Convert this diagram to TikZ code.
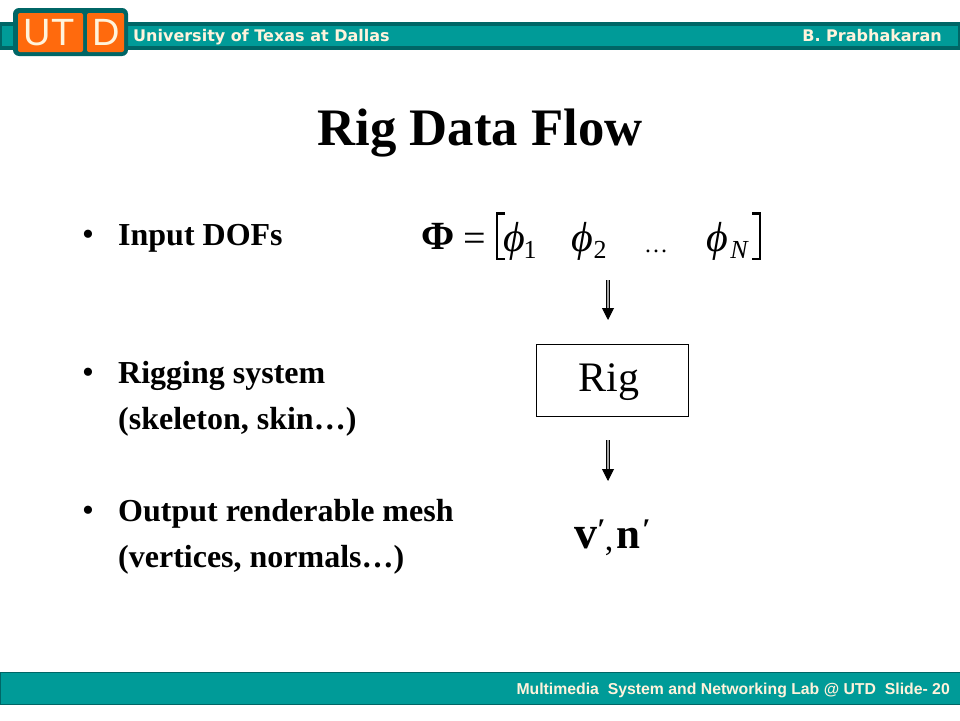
\documentclass[tikz,border=0pt]{standalone}
\usepackage{xcolor}
\usepackage{fontspec}
\setmainfont{Liberation Serif}
\newfontfamily\barfont{DejaVu Sans}
\newfontfamily\labfont{Liberation Sans}
\usepackage{tikz}
\usetikzlibrary{positioning,arrows.meta}
\definecolor{barteal}{HTML}{009B98}
\definecolor{darkteal}{HTML}{006666}
\definecolor{logoorange}{HTML}{FF6A0D}
\definecolor{logotext}{HTML}{FFF3DC}
\tikzset{
  headtext/.style={text=logotext, font=\barfont\bfseries\fontsize{16}{19}\selectfont, anchor=base west, inner sep=0pt},
  labtext/.style={text=logotext, font=\labfont\bfseries\fontsize{15.8}{19}\selectfont, anchor=base east, inner sep=0pt},
  logoletter/.style={text=logotext, font=\labfont\fontsize{38}{42}\selectfont, anchor=base, inner sep=0pt},
  bodytext/.style={font=\bfseries\fontsize{32}{38}\selectfont, anchor=base west, inner sep=0pt},
  bullet/.style={font=\fontsize{34}{38}\selectfont, anchor=base west, inner sep=0pt},
  mathtext/.style={font=\itshape\fontsize{42}{46}\selectfont, anchor=base, inner sep=0pt},
  subtext/.style={font=\fontsize{26}{30}\selectfont, anchor=base, inner sep=0pt},
  flowarrow/.style={draw=black, line width=0.9pt, double=gray!70, double distance=2.4pt, -{Triangle[width=12pt,length=12pt]}},
  bracket/.style={draw=black, line width=2.6pt},
}
\begin{document}
\begin{tikzpicture}[x=1pt,y=-1pt]
  \useasboundingbox (0,0) rectangle (960,720);
  \fill[white] (0,0) rectangle (960,720);
  % top bar
  \fill[darkteal] (0,22) rectangle (960,50);
  \fill[barteal] (2,26) rectangle (958,46);
  \fill[darkteal, rounded corners=6pt] (13,8) rectangle (128,56);
  \fill[logoorange, rounded corners=2pt] (18,13) rectangle (83,52);
  \fill[logoorange, rounded corners=2pt] (87,13) rectangle (124,52);
  \node (letterU) [logoletter] at (37,45) {U};
  \node (letterT) [logoletter] at (63,45) {T};
  \node (letterD) [logoletter] at (106,45) {D};
  \node (school) [headtext] at (133,41) {University of Texas at Dallas};
  \node (teacher) [headtext, anchor=base east] at (942,41) {B. Prabhakaran};
  % bottom bar
  \fill[barteal, draw=darkteal] (0,672) rectangle (960,704);
  \node (lab) [labtext] at (950,694) {Multimedia\ \ System and Networking Lab @ UTD\ \ Slide- 20};
  % title and list
  \node (title) [font=\bfseries\fontsize{52.7}{56}\selectfont, anchor=base, inner sep=0pt] at (480,145) {Rig Data Flow};
  \node (dot1) [bullet] at (82,245) {•};
  \node (input) [bodytext] at (118,245) {Input DOFs};
  \node (dot2) [bullet] at (82,383) {•};
  \node (rigging) [bodytext] at (118,383) {Rigging system};
  \node (rigging2) [bodytext] at (118,429) {(skeleton, skin…)};
  \node (dot3) [bullet] at (82,521) {•};
  \node (output) [bodytext] at (118,521) {Output renderable mesh};
  \node (output2) [bodytext] at (118,567) {(vertices, normals…)};
  % formula
  \node (phi) [font=\bfseries\fontsize{40}{44}\selectfont, anchor=base, inner sep=0pt] at (438,249) {Φ};
  \node (eq) [font=\fontsize{40}{44}\selectfont, anchor=base, inner sep=0pt] at (475,251) {=};
  \draw[bracket] (505,213.5) -- (497,213.5) -- (497,259) -- (505,259);
  \node (phi1) [mathtext] at (514,251) {ϕ};
  \node (sub1) [subtext] at (530,258) {1};
  \node (phi2) [mathtext] at (582,251) {ϕ};
  \node (sub2) [subtext] at (600,258) {2};
  \node (dots) [font=\fontsize{24}{28}\selectfont, anchor=base, inner sep=0pt] at (656,252) {…};
  \node (phiN) [mathtext] at (717,251) {ϕ};
  \node (subN) [subtext, font=\itshape\fontsize{26}{30}\selectfont] at (739,258) {N};
  \draw[bracket] (752,213.5) -- (760,213.5) -- (760,259) -- (752,259);
  % rig box and result
  \node (rig) [rectangle, draw, line width=0.8pt, minimum width=152pt, minimum height=72pt, inner sep=0pt] at (612.5,380.5) {};
  \node (rigtext) [font=\fontsize{42}{46}\selectfont, anchor=base, inner sep=0pt] at (609,391) {Rig};
  \node (vert) [font=\bfseries\fontsize{46}{50}\selectfont, anchor=base, inner sep=0pt] at (586,548) {v};
  \node (vprime) [font=\bfseries\itshape\fontsize{30}{40}\selectfont, anchor=base, inner sep=0pt] at (601,539) {′};
  \node (comma) [font=\fontsize{34}{40}\selectfont, anchor=base, inner sep=0pt] at (609,550) {,};
  \node (norm) [font=\bfseries\fontsize{43}{50}\selectfont, anchor=base, inner sep=0pt] at (628,548) {n};
  \node (nprime) [font=\bfseries\itshape\fontsize{30}{40}\selectfont, anchor=base, inner sep=0pt] at (646,539) {′};
  % arrows
  \coordinate (from1) at (608,280);
  \coordinate (to1) at (608,320);
  \coordinate (from2) at (608,440);
  \coordinate (to2) at (608,481);
  \draw[flowarrow] (from1) -- (to1);
  \draw[flowarrow] (from2) -- (to2);
\end{tikzpicture}
\end{document}
